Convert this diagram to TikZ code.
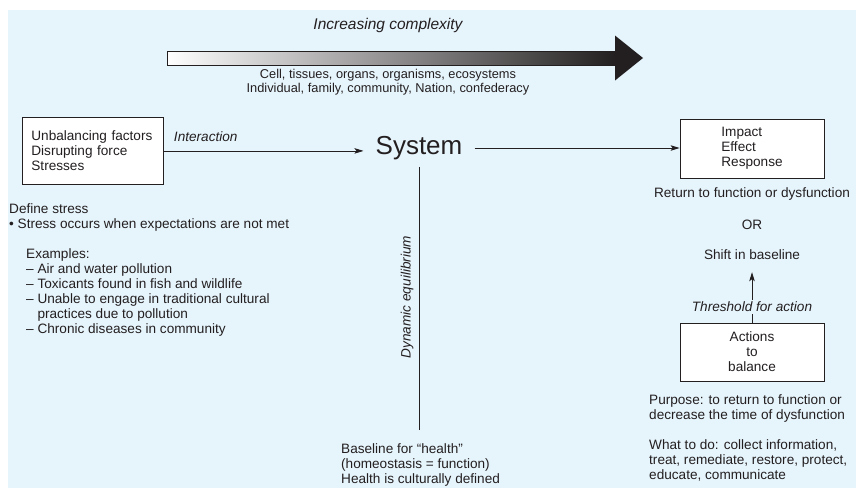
\documentclass[tikz,border=0pt]{standalone}
\usepackage{fontspec}
\setmainfont{Liberation Sans}
\usetikzlibrary{arrows.meta}
\definecolor{bg}{HTML}{E6F4FC}
\definecolor{ink}{HTML}{231F20}
\begin{document}
\begin{tikzpicture}[x=1pt,y=-1pt,
  every node/.style={font=\fontsize{13.6}{15}\selectfont, text=ink, inner sep=0pt},
  itfont/.style={font=\fontsize{13.6}{15}\selectfont\itshape},
  boxed/.style={draw=ink, line width=0.8pt, fill=white},
  conn/.style={draw=ink, line width=0.8pt},
  arr/.style={conn, -{Stealth[length=9pt,width=5.5pt,inset=2pt]}}]
\useasboundingbox (0,0) rectangle (856,488);
\fill[bg] (8,10) rectangle (856,488);
% top complexity arrow
\node[font=\fontsize{15.5}{18}\selectfont\itshape] (title) at (388,25) {Increasing complexity};
\shade[left color=white, right color=ink, draw=ink, line width=0.6pt] (167,51) rectangle (615,65);
\fill[ink] (615,35.5) -- (643,58) -- (615,80.5) -- cycle;
\node[align=center, font=\fontsize{12.8}{14}\selectfont] (levels) at (388,82)
  {Cell, tissues, organs, organisms, ecosystems\\Individual, family, community, Nation, confederacy};
% system row
\node[font=\fontsize{26}{30}\selectfont, inner xsep=12pt] (sys) at (419,148) {System};
\node[boxed, minimum width=141pt, minimum height=67pt, text width=123pt, inner xsep=9pt, align=left, anchor=north west]
  (lbox) at (22,117) {Unbalancing factors\\Disrupting force\\Stresses};
\node[boxed, minimum width=144pt, minimum height=59pt, align=left] (rbox) at (752,148.5) {Impact\\Effect\\Response};
\draw[arr] (lbox.east) -- node[pos=0.21, above=9pt, itfont] (inter) {Interaction} (lbox.east -| sys.west);
\draw[arr] (sys.east) -- (sys.east -| rbox.west);
% left notes
\node[anchor=north west, align=left] (define) at (9,203) {Define stress\\• Stress occurs when expectations are not met};
\node[anchor=north west, align=left] (examples) at (26,248) {Examples:\\– Air and water pollution\\– Toxicants found in fish and wildlife\\– Unable to engage in traditional cultural\\\phantom{– }practices due to pollution\\– Chronic diseases in community};
% dynamic equilibrium
\node[anchor=north west, align=left] (base) at (341,443) {Baseline for “health”\\(homeostasis = function)\\Health is culturally defined};
\draw[conn] ([yshift=-7pt]sys.south) -- ([yshift=13pt]sys.south |- base.north);
\node[itfont, rotate=90] (dyn) at (407,297) {Dynamic equilibrium};
% right column
\node (ret) at (752,194) {Return to function or dysfunction};
\node (or) at (752,225) {OR};
\node (shift) at (752,255) {Shift in baseline};
\node[boxed, minimum width=144pt, minimum height=58pt, align=center] (abox) at (752,352) {Actions\\to\\balance};
\draw[arr, shorten >=12pt] (abox.north) -- node[pos=0.25, fill=bg, inner ysep=2pt, itfont] (thr) {Threshold for action} (shift.south);
\node[anchor=north west, align=left] (purp) at (649,394) {Purpose: to return to function or\\decrease the time of dysfunction};
\node[anchor=north west, align=left] (todo) at (649,439) {What to do: collect information,\\treat, remediate, restore, protect,\\educate, communicate};
\end{tikzpicture}
\end{document}
